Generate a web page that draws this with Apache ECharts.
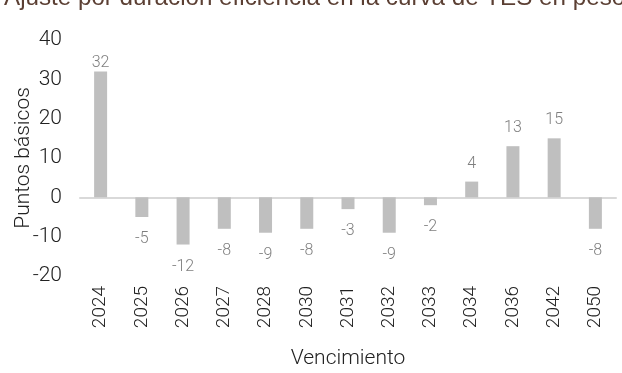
<!DOCTYPE html>
<html>
<head>
<meta charset="utf-8">
<script src="https://cdn.jsdelivr.net/npm/echarts@6/dist/echarts.min.js"></script>
<style>
  html, body { margin: 0; padding: 0; background: #fff; }
  #chart { width: 622px; height: 373px; }
</style>
</head>
<body>
<div id="chart"></div>
<script>
// Maturity years on the x axis
const vencimientos = ['2024', '2025', '2026', '2027', '2028', '2030', '2031', '2032', '2033', '2034', '2036', '2042', '2050'];
// Duration-efficiency adjustment, basis points
const ajustePb = [32, -5, -12, -8, -9, -8, -3, -9, -2, 4, 13, 15, -8];

const FONT = 'Roboto, "Liberation Sans", Arial, sans-serif';
const TITLE_FONT = '"Liberation Sans", Arial, sans-serif';
const AXIS_MAX = 40;

const chart = echarts.init(document.getElementById('chart'), null, { renderer: 'canvas' });

// Labels near the top of the plot area are tucked closer to the bar
function labelFor(v) {
  if (v < 0) return { position: 'bottom', distance: 14 };
  return { position: 'top', distance: v > AXIS_MAX - 10 ? 0 : 10 };
}

chart.setOption({
  animation: false,
  textStyle: { fontFamily: FONT },
  title: {
    text: 'Ajuste por duración eficiencia en la curva de TES en pesos',
    left: -1,
    top: -19,
    textStyle: { fontFamily: TITLE_FONT, fontSize: 24.2, fontWeight: 'normal', color: '#5b3f33' }
  },
  grid: { left: 80, right: 6, top: 40, bottom: 97, outerBoundsMode: 'none', containLabel: false },
  xAxis: {
    type: 'category',
    data: vencimientos,
    name: 'Vencimiento',
    nameLocation: 'middle',
    nameGap: 72,
    nameMoveOverlap: false,
    nameTextStyle: { fontFamily: FONT, fontSize: 21, fontWeight: 300, color: '#222' },
    axisLine: { onZero: true, lineStyle: { color: '#d9d9d9', width: 2 } },
    axisTick: { show: false },
    axisLabel: {
      interval: 0,
      rotate: 90,
      margin: 10,
      fontFamily: FONT,
      fontSize: 19,
      fontWeight: 300,
      color: '#222',
      verticalAlign: 'middle'
    },
    position: 'bottom'
  },
  yAxis: {
    type: 'value',
    min: -20,
    max: AXIS_MAX,
    interval: 10,
    name: 'Puntos básicos',
    nameLocation: 'middle',
    nameGap: 46,
    nameMoveOverlap: false,
    nameTextStyle: { fontFamily: FONT, fontSize: 21, fontWeight: 300, color: '#222' },
    axisLine: { show: false },
    axisTick: { show: false },
    splitLine: { show: false },
    axisLabel: { fontFamily: FONT, fontSize: 21, fontWeight: 300, color: '#222', margin: 18 }
  },
  series: [{
    type: 'bar',
    data: ajustePb.map(v => ({ value: v, label: labelFor(v) })),
    barWidth: 13,
    itemStyle: { color: '#bfbfbf' },
    label: {
      show: true,
      fontFamily: FONT,
      fontSize: 16,
      fontWeight: 300,
      color: '#7f7f7f'
    }
  }]
});
</script>
</body>
</html>
